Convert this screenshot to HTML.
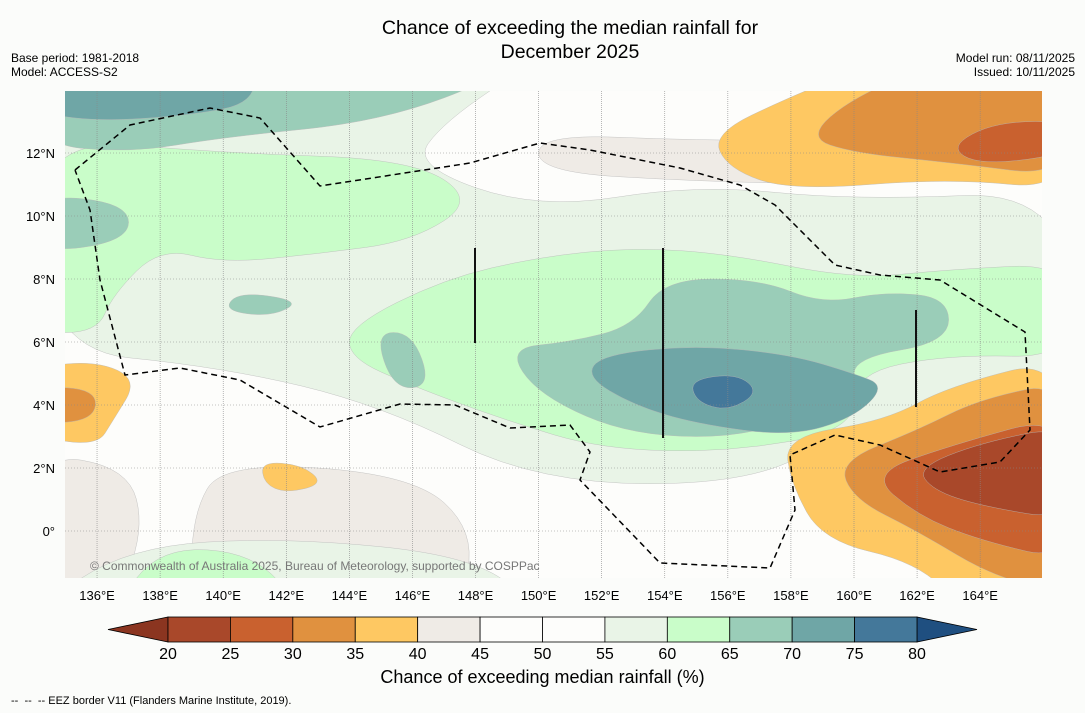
<!DOCTYPE html>
<html><head><meta charset="utf-8"><style>
body{margin:0;background:#fbfcfa;font-family:"Liberation Sans",sans-serif;}
#wrap{position:relative;width:1085px;height:713px;overflow:hidden;}
.t{position:absolute;color:#000;}
</style></head><body>
<div id="wrap">
<div class="t" style="left:0;width:1140px;top:16px;text-align:center;font-size:19.5px;line-height:24px;">Chance of exceeding the median rainfall for<br>December 2025</div>
<div class="t" style="left:11px;top:51px;font-size:12px;line-height:14px;">Base period: 1981-2018<br>Model: ACCESS-S2</div>
<div class="t" style="right:10px;top:51px;font-size:12px;line-height:14px;text-align:right;">Model run: 08/11/2025<br>Issued: 10/11/2025</div>
<svg id="svg" width="1085" height="713" style="position:absolute;left:0;top:0"></svg>
<div class="t" style="left:0;width:1085px;top:667px;text-align:center;font-size:18px;">Chance of exceeding median rainfall (%)</div>
<div class="t" style="left:11px;top:695px;font-size:11px;">--&nbsp; --&nbsp; -- EEZ border V11 (Flanders Marine Institute, 2019).</div>
</div>
<script>
const levels=[20,25,30,35,40,45,50,55,60,65,70,75,80];
const colors=["#a9482a","#c9612f","#e0913f","#fec862","#efebe6","#fdfdfb","#fdfdfb","#e9f4e7","#c9fdc9","#9acdb8","#6fa6a6","#44789a"];
const lowColor="#8b3520", highColor="#1f4f80";
const lonTicks=[136,138,140,142,144,146,148,150,152,154,156,158,160,162,164];
const latTicks=[0,2,4,6,8,10,12];
// contour regions: [level index, [lon,lat]...]
const regions=[
[4,[[140,2.2],[146,1.8],[148,0],[147.5,-2.5],[139,-2.5],[139,0.5]]],
[4,[[134,2.5],[137,2],[137.5,0],[136.5,-2.5],[134,-2.5]]],
[4,[[150,12.6],[155,12.4],[160,12.4],[160,11],[155,11.1],[150,11.4]]],
[4,[[162,-2.5],[167,-2.5],[167,1],[164,0]]],
[7,[[134,15],[150,15],[147,13],[146,11.6],[150,10.2],[155,11],[160,10.5],[167,10.8],[167,3],[160,3.5],[157,1.5],[150,1.5],[145,4],[140,5.2],[134,5.8]]],
[7,[[134,-2.5],[150,-2.5],[148,-0.8],[142,-0.2],[137,-0.5]]],
[8,[[134,12.5],[140,12],[146,11.8],[148,10.5],[146,9.2],[143,8.8],[140,8.5],[138,9],[136.5,7.5],[136,6.3],[134,6.3]]],
[8,[[144,6.5],[147,8],[150,8.7],[153,9],[156,8.8],[160,8],[163,8.3],[167,8.5],[167,5.5],[163,5.6],[160,5],[160,3.2],[156,2.5],[152,2.6],[149,3.5],[146,4.6],[144,5.5]]],
[8,[[136.5,-2.5],[142.5,-2.5],[141,-0.7],[138,-0.5]]],
[9,[[134,15],[141,15],[145,13.8],[149,14.5],[145,13],[140,12.5],[137,12],[134,12.3]]],
[9,[[149,5.8],[151,6],[153,6.5],[154,8],[157,8],[159,7.2],[161,7.6],[163,7.4],[163,6],[160,5.5],[160,4.5],[157,3],[153,3],[150,4.3]]],
[9,[[144.8,6.3],[146,6.3],[146.6,4.6],[145.4,4.5]]],
[9,[[134,10.7],[137,10.4],[137,9.2],[134,8.8]]],
[9,[[140.5,7.6],[142.5,7.3],[141.5,6.8],[140,7]]],
[10,[[134,15],[141,15],[141,13.6],[139,13.2],[136,13],[134,13.3]]],
[10,[[152,5.6],[155,5.9],[158,5.6],[160,5],[161,4.6],[160,3.6],[158,3],[155,3.4],[153,4],[151.5,4.9]]],
[11,[[154.8,4.8],[156.3,5],[157,4.4],[156,3.8],[155,4.1]]],
[11,[[137,14.8],[139.5,14.8],[138.5,13.8]]],
[3,[[155.5,12.6],[158,13.8],[161,15],[167,15],[167,10.8],[163,11.2],[158,10.8],[156,11.5]]],
[2,[[158.5,12.5],[160,13.8],[163,15],[167,15],[167,11.2],[163,11.7],[160,12]]],
[1,[[163,12.2],[164.5,13],[167,13],[167,12],[164,11.6]]],
[3,[[157.8,3],[161,3.5],[163,4.6],[167,5.6],[167,-2.5],[163.5,-2.5],[162,-1],[159,-0.3],[158,1.5]]],
[2,[[159.5,2.2],[162,3.2],[164,4.2],[167,4.8],[167,-2],[164.5,-1.5],[162,0],[160,1]]],
[1,[[160.5,1.8],[163,2.7],[167,3.8],[167,-1],[164,-0.3],[162,0.5]]],
[0,[[162,2],[164,2.8],[167,3.4],[167,0.3],[164,0.8],[162.5,1.3]]],
[3,[[134,5.2],[136,5.4],[137.3,4.8],[136.5,3.5],[136,2.7],[134,3]]],
[2,[[134,4.6],[136,4.5],[135.9,3.5],[134,3.4]]],
[3,[[141.2,2.2],[142.5,2.1],[143.2,1.5],[142,1.2],[141.3,1.5]]]
];
const NS="http://www.w3.org/2000/svg";
const svg=document.getElementById('svg');
const X0=65,X1=1042,Y0=91,Y1=578;
const xs=lon=>65.5+(lon-135)*31.54;
const ys=lat=>531-lat*31.5;
function mk(tag,attrs,parent){const e=document.createElementNS(NS,tag);for(const k in attrs)e.setAttribute(k,attrs[k]);(parent||svg).appendChild(e);return e;}
const defs=mk('defs',{});
const cp=mk('clipPath',{id:'clip'},defs);mk('rect',{x:X0,y:Y0,width:X1-X0,height:Y1-Y0},cp);
const g=mk('g',{'clip-path':'url(#clip)'});
const bg=mk('rect',{x:X0,y:Y0,width:X1-X0,height:Y1-Y0,fill:'#fdfdfb'},g);


function smooth(pts){const n=pts.length;let d='';for(let i=0;i<n;i++){const a=pts[i],b=pts[(i+1)%n];const m=[(a[0]+b[0])/2,(a[1]+b[1])/2];if(i===0){const p=pts[n-1];d+='M'+((p[0]+a[0])/2)+','+((p[1]+a[1])/2);}d+=' Q'+a[0]+','+a[1]+' '+m[0]+','+m[1];}return d+'Z';}
regions.forEach(([li,pts],i)=>{
  const p=mk('path',{d:smooth(pts.map(q=>[xs(q[0]),ys(q[1])])),fill:colors[li],stroke:'#b8b8b8','stroke-width':0.4},g);
  
  
});
lonTicks.forEach(l=>{const ln=mk('line',{x1:xs(l),x2:xs(l),y1:Y0,y2:Y1,stroke:'#888','stroke-width':0.6,'stroke-dasharray':'1,1'},g);


const t=mk('text',{x:xs(l),y:600,'font-size':13,'text-anchor':'middle','font-family':'Liberation Sans'});t.textContent=l+'°E';

});
latTicks.forEach(l=>{const ln=mk('line',{x1:X0,x2:X1,y1:ys(l),y2:ys(l),stroke:'#888','stroke-width':0.6,'stroke-dasharray':'1,2'},g);


const t=mk('text',{x:55,y:ys(l)+5,'font-size':13,'text-anchor':'end','font-family':'Liberation Sans'});t.textContent=l===0?'0°':l+'°N';

});
const eez=[[75,170],[130,125],[210,108],[260,118],[320,186],[470,163],[540,143],[590,150],[680,168],[740,185],[775,205],[835,265],[880,275],[940,280],[1025,332],[1030,430],[1000,462],[940,472],[880,445],[835,435],[790,455],[795,510],[770,568],[660,563],[580,480],[590,452],[570,425],[510,428],[455,405],[400,404],[320,427],[240,380],[180,368],[125,375],[100,280],[90,210],[75,170]];
const e=mk('polyline',{points:eez.map(p=>p.join(',')).join(' '),fill:'none',stroke:'#000','stroke-width':1.5,'stroke-dasharray':'6,4'},g);


[[475,248,343],[663,248,438],[916,310,407]].forEach(v=>{const l=mk('line',{x1:v[0],x2:v[0],y1:v[1],y2:v[2],stroke:'#111','stroke-width':2},g);

});
const cr=mk('text',{x:90,y:570,'font-size':12,fill:'#777','font-family':'Liberation Sans'},g);cr.textContent='© Commonwealth of Australia 2025, Bureau of Meteorology, supported by COSPPac';


const cbX0=168,cbX1=917,cbY=617,cbH=25,seg=(cbX1-cbX0)/colors.length;
const tl=mk('polygon',{points:`108,${cbY+cbH/2} ${cbX0},${cbY} ${cbX0},${cbY+cbH}`,fill:lowColor,stroke:'#000','stroke-width':0.8});


const tr=mk('polygon',{points:`977,${cbY+cbH/2} ${cbX1},${cbY} ${cbX1},${cbY+cbH}`,fill:highColor,stroke:'#000','stroke-width':0.8});


colors.forEach((c,i)=>{const r=mk('rect',{x:cbX0+i*seg,y:cbY,width:seg,height:cbH,fill:c,stroke:'#000','stroke-width':0.8});

});
levels.forEach((v,i)=>{const t=mk('text',{x:cbX0+i*seg,y:659,'font-size':16,'text-anchor':'middle','font-family':'Liberation Sans'});t.textContent=v;

});
</script>
</body></html>
